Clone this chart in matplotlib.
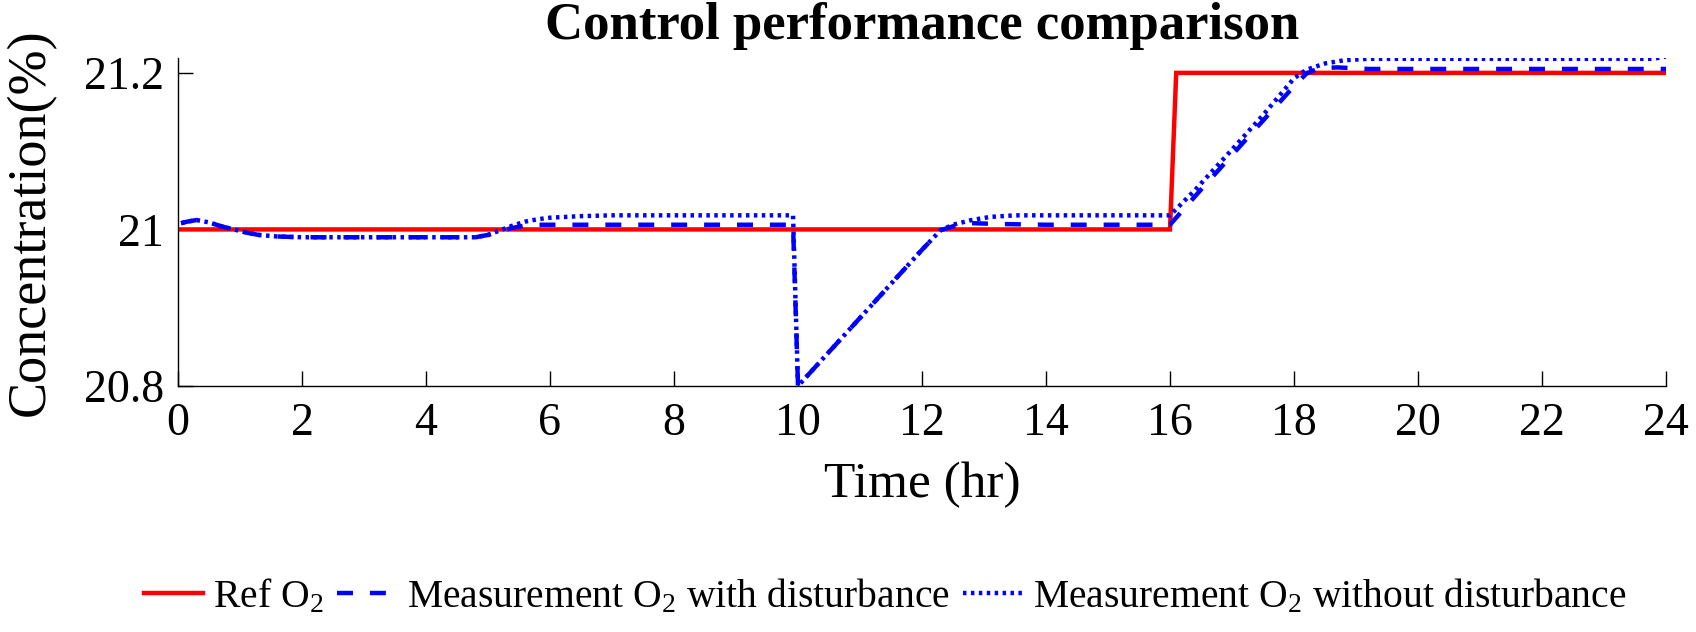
import matplotlib
matplotlib.use("Agg")
import matplotlib.pyplot as plt

# ---------------- data ----------------
t_ref = [0, 16.0, 16.1, 24]
y_ref = [21.0, 21.0, 21.2, 21.2]

t_dist = [0.05, 0.15, 0.3, 0.5, 0.7, 0.9, 1.1, 1.3, 1.6, 2.0, 3.0, 4.0, 4.8, 5.0, 5.2,
          5.4, 5.6, 5.8, 6.0, 7.0, 8.0, 9.0, 9.92, 10.0, 11.0, 12.0, 12.3, 12.5, 12.8,
          13.2, 14.0, 15.0, 16.0, 16.4, 17.0, 17.5, 18.0, 18.2, 18.4, 18.7, 19.2, 20.0,
          22.0, 24.0]
y_dist = [21.008, 21.010, 21.012, 21.009, 21.004, 21.000, 20.996, 20.993, 20.991, 20.990,
          20.990, 20.990, 20.990, 20.993, 20.998, 21.002, 21.005, 21.006, 21.006, 21.006,
          21.006, 21.006, 21.006, 20.800, 20.887, 20.974, 20.999, 21.004, 21.008, 21.007,
          21.006, 21.006, 21.006, 21.042, 21.095, 21.139, 21.183, 21.199, 21.206, 21.207,
          21.205, 21.205, 21.205, 21.205]

t_nodist = [0.05, 0.15, 0.3, 0.5, 0.7, 0.9, 1.1, 1.3, 1.6, 2.0, 3.0, 4.0, 4.8, 5.0, 5.2,
            5.4, 5.6, 5.8, 6.0, 6.5, 7.0, 8.0, 9.0, 9.92, 10.0, 11.0, 12.0, 12.3, 12.5,
            12.8, 13.1, 13.5, 14.0, 15.0, 16.0, 16.4, 17.0, 17.5, 18.0, 18.2, 18.5,
            18.8, 19.2, 20.0, 22.0, 23.8, 24.0]
y_nodist = [21.008, 21.010, 21.012, 21.009, 21.004, 21.000, 20.996, 20.993, 20.991, 20.990,
            20.990, 20.990, 20.990, 20.993, 20.999, 21.005, 21.010, 21.013, 21.015, 21.017,
            21.018, 21.018, 21.018, 21.018, 20.800, 20.887, 20.974, 20.999, 21.006,
            21.012, 21.016, 21.018, 21.018, 21.018, 21.018, 21.050, 21.102, 21.146, 21.193,
            21.204, 21.212, 21.216, 21.218, 21.218, 21.218, 21.218, 21.221]

x_ticks = [0, 2, 4, 6, 8, 10, 12, 14, 16, 18, 20, 22, 24]
y_ticks = [20.8, 21.0, 21.2]
y_tick_labels = ["20.8", "21", "21.2"]

title = "Control performance comparison"
x_label = "Time (hr)"
y_label = "Concentration(%)"
legend_labels = ["Ref O$_2$", "Measurement O$_2$ with disturbance",
                 "Measurement O$_2$ without disturbance"]

# ---------------- style ----------------
plt.rcParams["font.family"] = ["Liberation Serif", "DejaVu Serif"]
plt.rcParams["mathtext.fontset"] = "custom"
plt.rcParams["mathtext.rm"] = "Liberation Serif"
plt.rcParams["mathtext.it"] = "Liberation Serif:italic"
plt.rcParams["mathtext.bf"] = "Liberation Serif:bold"
plt.rcParams["lines.scale_dashes"] = False

fig = plt.figure(figsize=(16.96, 6.32), dpi=100)
ax = fig.add_axes([178 / 1696, 1 - 386 / 632, (1666 - 178) / 1696, (386 - 58) / 632])

lw = 3.2
l1, = ax.plot(t_ref, y_ref, color=(1, 0, 0), lw=lw, solid_joinstyle="miter")
l2, = ax.plot(t_dist, y_dist, color=(0, 0, 1), lw=lw, linestyle=(0, (11.5, 12.2)))
l3, = ax.plot(t_nodist, y_nodist, color=(0, 0, 1), lw=lw, linestyle=(0, (2.5, 3.2)))

ax.set_xlim(0, 24)
ax.set_ylim(20.8, 21.219)
ax.set_xticks(x_ticks)
ax.set_xticklabels([str(v) for v in x_ticks])
ax.set_yticks(y_ticks)
ax.set_yticklabels(y_tick_labels)

for s in ["top", "right"]:
    ax.spines[s].set_visible(False)
for s in ["left", "bottom"]:
    ax.spines[s].set_linewidth(1.0)
    ax.spines[s].set_color("black")

ax.tick_params(axis="both", direction="in", length=10.5, width=1.0, labelsize=33,
               colors="black")
ax.tick_params(axis="x", pad=12)
ax.tick_params(axis="y", pad=10)

ax.set_title(title, fontsize=38, fontweight="bold", pad=14)
ax.set_xlabel(x_label, fontsize=37, labelpad=12)
ax.set_ylabel(y_label, fontsize=39, labelpad=20)

fig.legend([l1, l2, l3], legend_labels, loc="center",
           bbox_to_anchor=(885 / 1696, 1 - 597 / 632), ncol=3, frameon=False,
           fontsize=28.5, handlelength=1.5, handletextpad=0.25, columnspacing=0.35,
           borderaxespad=0)

fig.savefig("out.png", dpi=100)
